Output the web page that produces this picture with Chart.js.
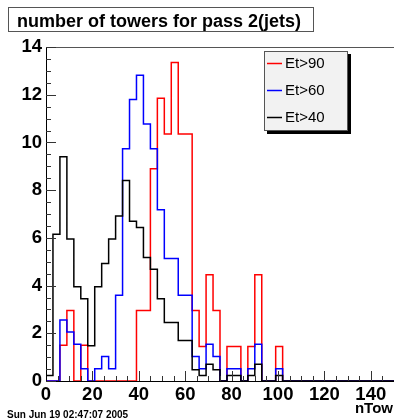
<!DOCTYPE html>
<html>
<head>
<meta charset="utf-8">
<script src="https://cdn.jsdelivr.net/npm/chart.js@4.4.0/dist/chart.umd.min.js"></script>
<style>
  html, body { margin: 0; padding: 0; background: #fff; }
</style>
</head>
<body>
<canvas id="chart" width="394" height="420"></canvas>
<script>
// histogram: 50 bins of width 3 between 0 and 150
const binWidth = 3;
const xMax = 150;
const yMax = 14;
const seriesNames = ['Et>90', 'Et>60', 'Et>40'];
const colors = ['#ff0000', '#0000ff', '#000000'];

const et90 = [0, 0, 1.5, 2.95, 0, 1.5, 0, 0, 0, 0,
  0, 0, 0, 2.95, 2.95, 8.9, 11.85, 10.35, 13.35, 10.35,
  10.35, 2.95, 1.45, 4.45, 2.95, 0, 1.45, 1.45, 0, 1.45,
  4.45, 0, 0, 1.45, 0, 0, 0, 0, 0, 0,
  0, 0, 0, 0, 0, 0, 0, 0, 0, 0];
const et60 = [0, 0, 2.56, 2.05, 1.54, 0.51, 0, 0.51, 1.03, 0.51,
  3.59, 9.74, 11.8, 12.82, 10.77, 9.74, 7.18, 5.13, 5.13, 3.59,
  3.59, 1.03, 0.51, 1.54, 1.03, 0, 0.51, 0.51, 0, 0.51,
  1.54, 0, 0, 0.51, 0, 0, 0, 0, 0, 0,
  0, 0, 0, 0, 0, 0, 0, 0, 0, 0];
const et40 = [0.23, 6.15, 9.4, 5.95, 3.95, 3.45, 1.48, 3.95, 4.93, 5.95,
  6.92, 8.4, 6.7, 6.43, 5.18, 4.68, 3.45, 2.45, 2.45, 1.7,
  1.7, 0.47, 0.23, 0.7, 0.47, 0, 0.23, 0.23, 0, 0.23,
  0.7, 0, 0, 0.23, 0, 0, 0, 0, 0, 0,
  0, 0, 0, 0, 0, 0, 0, 0, 0, 0];

const xTicks = [0, 20, 40, 60, 80, 100, 120, 140];
const yTicks = [0, 2, 4, 6, 8, 10, 12, 14];

const titleText = 'number of towers for pass 2(jets)';
const xTitle = 'nTow';
const dateText = 'Sun Jun 19 02:47:07 2005';

const FONT = "'Liberation Sans', Arial, Helvetica, sans-serif";

// bin contents -> step outline points (left edge of each bin)
function histPoints(vals) {
  let pts = [{ x: 0, y: 0 }];
  vals.forEach((v, i) => pts.push({ x: i * binWidth, y: v }));
  pts.push({ x: vals.length * binWidth, y: 0 });
  return pts;
}

const rootDecor = {
  id: 'rootDecor',
  afterDatasetsDraw(chart) {
    const { ctx, chartArea: a, scales: { x, y } } = chart;
    ctx.save();
    // frame top
    ctx.strokeStyle = '#555';
    ctx.lineWidth = 1;
    ctx.beginPath();
    ctx.moveTo(a.left, a.top + 0.5);
    ctx.lineTo(a.right, a.top + 0.5);
    ctx.stroke();

    // inward ticks
    ctx.strokeStyle = '#333';
    ctx.beginPath();
    for (let v = 0; v <= yMax; v += 0.5) {
      const py = Math.round(y.getPixelForValue(v)) + 0.5;
      const len = v % 2 === 0 ? 10 : 5;
      ctx.moveTo(a.left, py);
      ctx.lineTo(a.left + len, py);
    }
    for (let v = 5; v < xMax; v += 5) {
      const px = Math.round(x.getPixelForValue(v)) + 0.5;
      const len = v % 20 === 0 ? 10 : 5;
      ctx.moveTo(px, a.bottom);
      ctx.lineTo(px, a.bottom - len);
    }
    ctx.stroke();
    ctx.restore();
  },
  afterDraw(chart) {
    const ctx = chart.ctx;
    ctx.save();

    // title box
    ctx.fillStyle = '#fff';
    ctx.fillRect(8, 7, 305, 24);
    ctx.strokeStyle = '#555';
    ctx.lineWidth = 1;
    ctx.strokeRect(8.5, 7.5, 305, 24);
    ctx.fillStyle = '#000';
    ctx.font = 'bold 18px ' + FONT;
    ctx.textBaseline = 'alphabetic';
    ctx.textAlign = 'left';
    ctx.fillText(titleText, 17, 26.5);

    // legend with shadow
    const lx = 264, ly = 51, lw = 83, lh = 79;
    ctx.fillStyle = '#000';
    ctx.fillRect(lx + 3, ly + 3, lw + 1, lh + 1);
    ctx.fillStyle = '#f2f2f2';
    ctx.fillRect(lx, ly, lw, lh);
    ctx.strokeStyle = '#555';
    ctx.strokeRect(lx + 0.5, ly + 0.5, lw, lh);
    ctx.font = '15px ' + FONT;
    ctx.textBaseline = 'middle';
    seriesNames.forEach((name, i) => {
      const yy = ly + 12.5 + i * 27;
      ctx.strokeStyle = colors[i];
      ctx.lineWidth = 1.5;
      ctx.beginPath();
      ctx.moveTo(lx + 3, yy);
      ctx.lineTo(lx + 18, yy);
      ctx.stroke();
      ctx.fillStyle = '#000';
      ctx.fillText(name, lx + 21, yy + 0.5);
    });

    // axis title and date stamp
    ctx.fillStyle = '#000';
    ctx.font = 'bold 15px ' + FONT;
    ctx.textAlign = 'right';
    ctx.textBaseline = 'alphabetic';
    ctx.fillText(xTitle, 393, 413);
    ctx.font = 'bold 10px ' + FONT;
    ctx.textAlign = 'left';
    ctx.fillText(dateText, 7, 418);
    ctx.restore();
  }
};

const tickFont = { family: FONT, size: 18.5, weight: 'bold' };

new Chart(document.getElementById('chart'), {
  type: 'line',
  data: {
    datasets: [
      { label: seriesNames[0], data: histPoints(et90), borderColor: colors[0], order: 3 },
      { label: seriesNames[1], data: histPoints(et60), borderColor: colors[1], order: 2 },
      { label: seriesNames[2], data: histPoints(et40), borderColor: colors[2], order: 1 }
    ]
  },
  options: {
    responsive: false,
    animation: false,
    events: [],
    datasets: {
      line: { stepped: 'before', pointRadius: 0, borderWidth: 1.5, fill: false, tension: 0 }
    },
    layout: { padding: { top: 47, right: 0, bottom: 0, left: 0 } },
    plugins: { legend: { display: false }, tooltip: { enabled: false }, title: { display: false } },
    scales: {
      x: {
        type: 'linear',
        min: 0,
        max: xMax,
        afterFit: s => { s.height = 39; },
        afterBuildTicks: s => { s.ticks = xTicks.map(v => ({ value: v })); },
        grid: { display: false, drawTicks: false },
        border: { display: true, color: '#000', width: 1 },
        ticks: { font: tickFont, color: '#000', padding: 3, maxRotation: 0, autoSkip: false }
      },
      y: {
        min: 0,
        max: yMax,
        afterFit: s => { s.width = 46; },
        afterBuildTicks: s => { s.ticks = yTicks.map(v => ({ value: v })); },
        grid: { display: false, drawTicks: false },
        border: { display: true, color: '#000', width: 1 },
        ticks: { font: tickFont, color: '#000', padding: 4 }
      }
    }
  },
  plugins: [rootDecor]
});
</script>
</body>
</html>
